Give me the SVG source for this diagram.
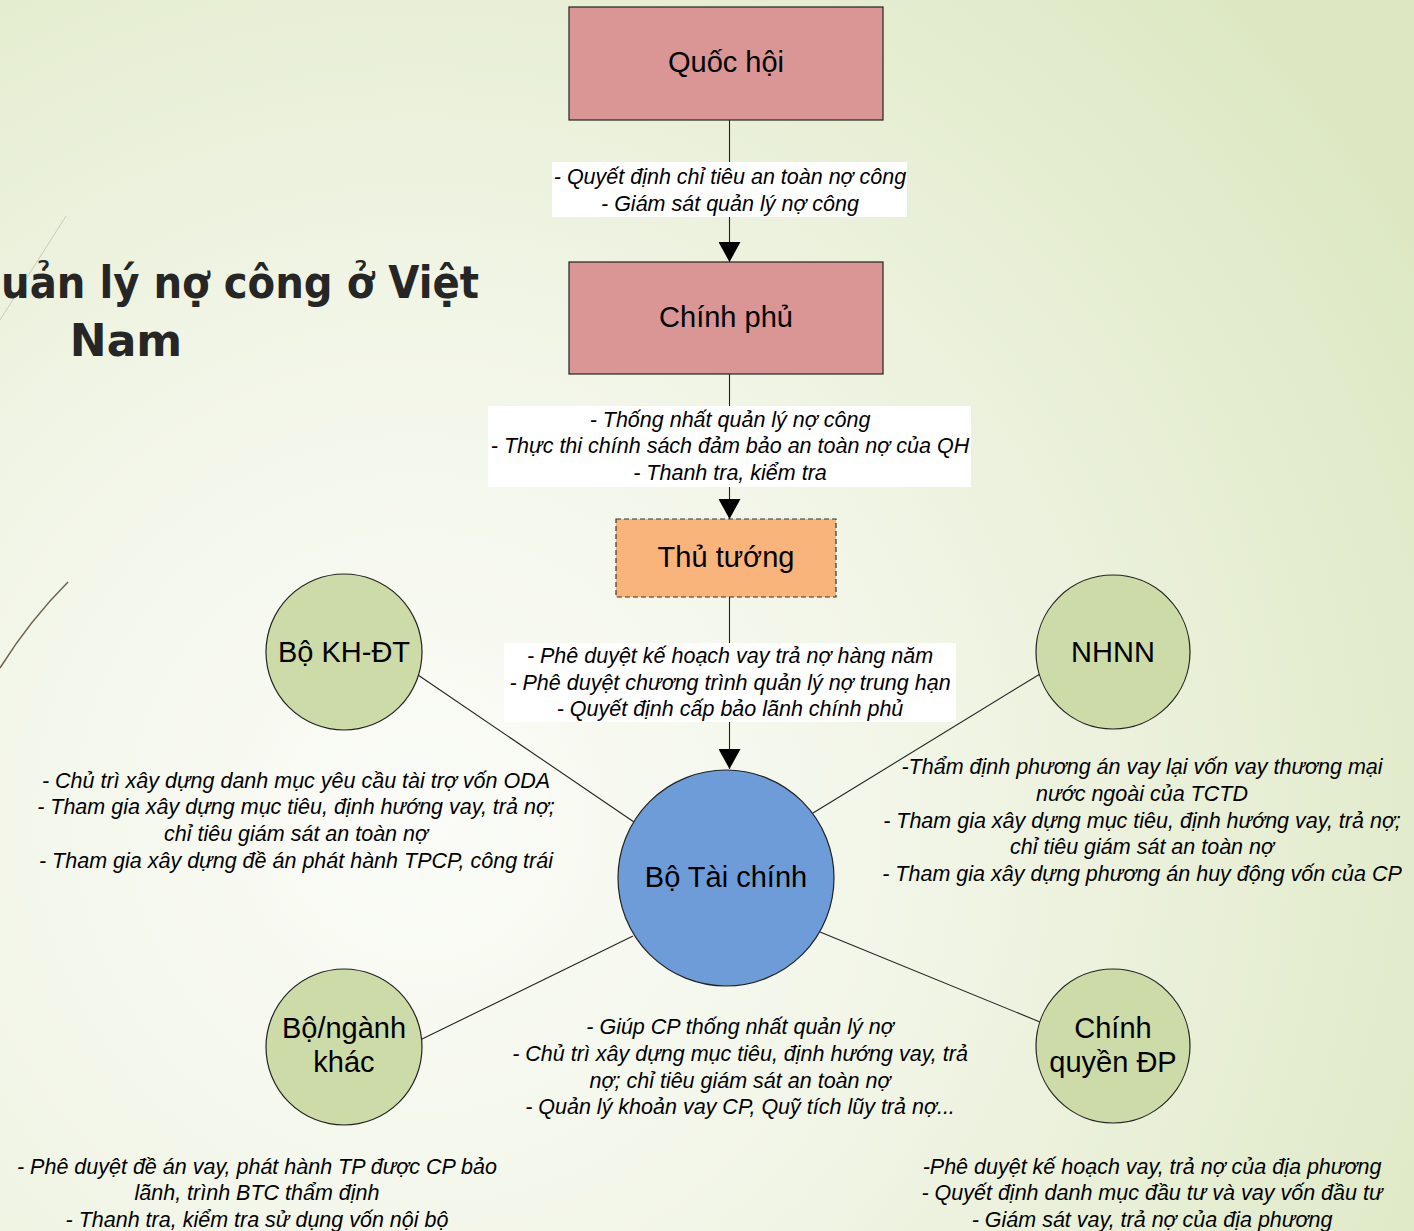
<svg xmlns="http://www.w3.org/2000/svg" width="1414" height="1231" viewBox="0 0 1414 1231">
<defs>
<radialGradient id="bg" gradientUnits="userSpaceOnUse" cx="420" cy="820" r="1150">
<stop offset="0" stop-color="#fbfcf8"/>
<stop offset="0.45" stop-color="#f1f5e6"/>
<stop offset="1" stop-color="#dde8c3"/>
</radialGradient>
<marker id="arr" markerUnits="userSpaceOnUse" markerWidth="22" markerHeight="22" viewBox="0 0 22 22" refX="20" refY="11" orient="auto">
<path d="M0,0 L20,11 L0,22 Z" fill="#000"/>
</marker>
<style>
.box{stroke:#222;stroke-width:1.2}
.circ{fill:#cddba9;stroke:#222;stroke-width:1.2}
.nt{font-family:"Liberation Sans",Arial,sans-serif;font-size:29px;fill:#000;text-anchor:middle}
.lb{font-family:"Liberation Sans",Arial,sans-serif;font-size:21.5px;font-style:italic;fill:#000;text-anchor:middle}
.ln{stroke:#222;stroke-width:1.1;fill:none}
.lbg{fill:#fff}
</style>
</defs>
<rect width="1414" height="1231" fill="url(#bg)"/>
<path d="M0,320 L66,216" stroke="#c9c9b8" stroke-width="1" fill="none"/>
<path d="M0,668 Q30,620 68,582" stroke="#6e6450" stroke-width="1.5" fill="none"/>
<g id="title" font-family="'DejaVu Sans','Noto Sans',sans-serif" font-weight="bold" font-size="44" fill="#262626">
<text x="1" y="298" textLength="478" lengthAdjust="spacingAndGlyphs">uản lý nợ công ở Việt</text>
<text x="126" y="356" text-anchor="middle">Nam</text>
</g>
<g id="connectors">
<line class="ln" x1="729.5" y1="120" x2="729.5" y2="262" marker-end="url(#arr)"/>
<line class="ln" x1="729.5" y1="374" x2="729.5" y2="519" marker-end="url(#arr)"/>
<line class="ln" x1="729.5" y1="597" x2="729.5" y2="769" marker-end="url(#arr)"/>
<line class="ln" x1="418" y1="675" x2="634" y2="822"/>
<line class="ln" x1="1040" y1="674" x2="813" y2="813"/>
<line class="ln" x1="420" y1="1040" x2="633" y2="936"/>
<line class="ln" x1="820" y1="932" x2="1040" y2="1022"/>
<g id="label-qh-cp">
<rect class="lbg" x="552" y="162" width="355" height="55"/>
<text class="lb" x="730" y="184">- Quyết định chỉ tiêu an toàn nợ công</text>
<text class="lb" x="730" y="211">- Giám sát quản lý nợ công</text>
</g>
<g id="label-cp-tt">
<rect class="lbg" x="488" y="406" width="483" height="81"/>
<text class="lb" x="730" y="427">- Thống nhất quản lý nợ công</text>
<text class="lb" x="730" y="453">- Thực thi chính sách đảm bảo an toàn nợ của QH</text>
<text class="lb" x="730" y="480">- Thanh tra, kiểm tra</text>
</g>
<g id="label-tt-btc">
<rect class="lbg" x="504" y="643" width="452" height="79"/>
<text class="lb" x="730" y="663">- Phê duyệt kế hoạch vay trả nợ hàng năm</text>
<text class="lb" x="730" y="690">- Phê duyệt chương trình quản lý nợ trung hạn</text>
<text class="lb" x="730" y="716">- Quyết định cấp bảo lãnh chính phủ</text>
</g>
</g>
<g id="quoc-hoi">
<rect class="box" x="569" y="7" width="314" height="113" fill="#d99694"/>
<text class="nt" x="726" y="72">Quốc hội</text>
</g>
<g id="chinh-phu">
<rect class="box" x="569" y="262" width="314" height="112" fill="#d99694"/>
<text class="nt" x="726" y="327">Chính phủ</text>
</g>
<g id="thu-tuong">
<rect x="616" y="519" width="220" height="78" fill="#f9b47b" stroke="#333" stroke-width="1.2" stroke-dasharray="5,3"/>
<text class="nt" x="726" y="567">Thủ tướng</text>
</g>
<g id="bo-tai-chinh">
<circle cx="726" cy="878" r="108" fill="#6e9cd9" stroke="#222" stroke-width="1.2"/>
<text class="nt" x="726" y="887">Bộ Tài chính</text>
<text class="lb" x="740" y="1034">- Giúp CP thống nhất quản lý nợ</text>
<text class="lb" x="740" y="1061">- Chủ trì xây dựng mục tiêu, định hướng vay, trả</text>
<text class="lb" x="740" y="1088">nợ; chỉ tiêu giám sát an toàn nợ</text>
<text class="lb" x="740" y="1114">- Quản lý khoản vay CP, Quỹ tích lũy trả nợ...</text>
</g>
<g id="bo-kh-dt">
<circle class="circ" cx="344" cy="652" r="78"/>
<text class="nt" x="344" y="662">Bộ KH-ĐT</text>
<text class="lb" x="296" y="788">- Chủ trì xây dựng danh mục yêu cầu tài trợ vốn ODA</text>
<text class="lb" x="296" y="814">- Tham gia xây dựng mục tiêu, định hướng vay, trả nợ;</text>
<text class="lb" x="296" y="841">chỉ tiêu giám sát an toàn nợ</text>
<text class="lb" x="296" y="868">- Tham gia xây dựng đề án phát hành TPCP, công trái</text>
</g>
<g id="nhnn">
<circle class="circ" cx="1113" cy="652" r="77"/>
<text class="nt" x="1113" y="662">NHNN</text>
<text class="lb" x="1142" y="774">-Thẩm định phương án vay lại vốn vay thương mại</text>
<text class="lb" x="1142" y="801">nước ngoài của TCTD</text>
<text class="lb" x="1142" y="828">- Tham gia xây dựng mục tiêu, định hướng vay, trả nợ;</text>
<text class="lb" x="1142" y="854">chỉ tiêu giám sát an toàn nợ</text>
<text class="lb" x="1142" y="881">- Tham gia xây dựng phương án huy động vốn của CP</text>
</g>
<g id="bo-nganh-khac">
<circle class="circ" cx="344" cy="1047" r="78"/>
<text class="nt" x="344" y="1038">Bộ/ngành</text>
<text class="nt" x="344" y="1072">khác</text>
<text class="lb" x="257" y="1174">- Phê duyệt đề án vay, phát hành TP được CP bảo</text>
<text class="lb" x="257" y="1200">lãnh, trình BTC thẩm định</text>
<text class="lb" x="257" y="1227">- Thanh tra, kiểm tra sử dụng vốn nội bộ</text>
</g>
<g id="chinh-quyen-dp">
<circle class="circ" cx="1113" cy="1046" r="77"/>
<text class="nt" x="1113" y="1038">Chính</text>
<text class="nt" x="1113" y="1072">quyền ĐP</text>
<text class="lb" x="1152" y="1174">-Phê duyệt kế hoạch vay, trả nợ của địa phương</text>
<text class="lb" x="1152" y="1200">- Quyết định danh mục đầu tư và vay vốn đầu tư</text>
<text class="lb" x="1152" y="1227">- Giám sát vay, trả nợ của địa phương</text>
</g>
</svg>
